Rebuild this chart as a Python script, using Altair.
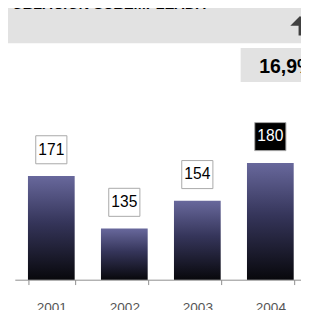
import altair as alt
import pandas as pd

years = ["2001", "2002", "2003", "2004"]
values = [171, 135, 154, 180]
highlight = [False, False, False, True]
title_text = "POBLACIÓN SUBEMPLEADA"
change_text = "16,9%"

df = pd.DataFrame({"year": years, "value": values, "hl": highlight})
one = alt.Data(values=[{"k": 1}])

x = alt.X(
    "year:N", sort=years, title=None,
    scale=alt.Scale(paddingInner=0.36, paddingOuter=0.18),
    axis=alt.Axis(labelAngle=0, tickBand="extent", domainColor="#8c8c8c",
                  tickColor="#8c8c8c", tickSize=5, labelPadding=17,
                  labelFont="Liberation Sans", labelFontSize=14,
                  labelColor="#555555"),
)
y = alt.Y("value:Q", scale=alt.Scale(domain=[100, 200], zero=False, nice=False), axis=None)

grad = alt.Gradient(
    gradient="linear",
    stops=[alt.GradientStop(color="#68689c", offset=0),
           alt.GradientStop(color="#35355a", offset=0.45),
           alt.GradientStop(color="#08080c", offset=1)],
    x1=0, x2=0, y1=0, y2=1,
)

base = alt.Chart(df)
bars = base.mark_bar(color=grad).encode(x=x, y=y, y2=alt.datum(100))

boxes = base.mark_point(
    shape="M-1,-0.9L1,-0.9L1,0.9L-1,0.9Z", size=1024, filled=True,
    stroke="#a8a8a8", strokeWidth=1, opacity=1, yOffset=-27,
).encode(
    x=x, y=y,
    fill=alt.condition("datum.hl", alt.value("#000000"), alt.value("#ffffff")),
)

labels = base.mark_text(
    dy=-27, baseline="middle", align="center", fontSize=16, font="Liberation Sans",
).encode(
    x=x, y=y, text="value:Q",
    color=alt.condition("datum.hl", alt.value("#ffffff"), alt.value("#000000")),
)

band = alt.Chart(one).mark_rect(color="#e2e2e2").encode(
    x=alt.value(-10), x2=alt.value(305), y=alt.value(-140), y2=alt.value(-93))
title = alt.Chart(one).mark_text(
    align="left", baseline="alphabetic", fontSize=15, fontWeight="bold",
    fontStyle="italic", font="Liberation Sans", color="#000000",
).encode(x=alt.value(-13), y=alt.value(-128), text=alt.value(title_text))
arrow = alt.Chart(one).mark_point(
    shape="M-1,0.5L0,-0.5L1,0.5L0.15,0.5L0.15,1.5L-0.15,1.5L-0.15,0.5Z",
    size=400, filled=True, color="#404040", opacity=1, strokeWidth=0,
).encode(x=alt.value(293), y=alt.value(-116))
chbox = alt.Chart(one).mark_rect(color="#e2e2e2").encode(
    x=alt.value(232), x2=alt.value(305), y=alt.value(-88), y2=alt.value(-53))
chtext = alt.Chart(one).mark_text(
    align="left", baseline="alphabetic", fontSize=20, fontWeight="bold",
    font="Liberation Sans", color="#000000",
).encode(x=alt.value(251), y=alt.value(-62), text=alt.value(change_text))

chart = alt.layer(band, title, arrow, chbox, chtext, bars, boxes, labels).properties(
    width=300, height=150,
    autosize=alt.AutoSizeParams(type="none"),
    padding={"left": 7, "top": 125, "right": -6, "bottom": 27},
).configure_view(stroke=None)

chart.save("out.html", embed_options={"renderer": "svg", "actions": False})
